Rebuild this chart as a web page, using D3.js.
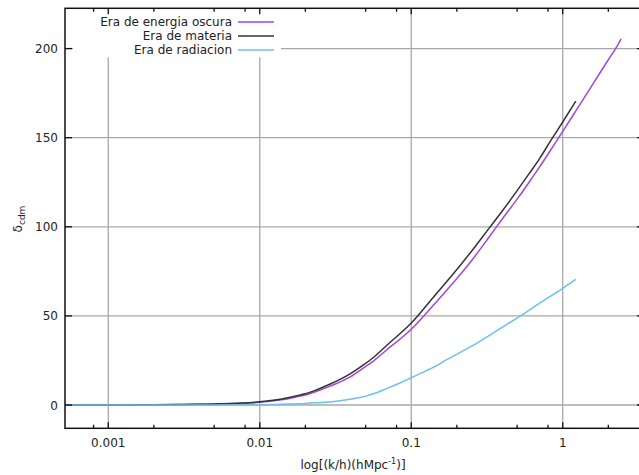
<!DOCTYPE html>
<html>
<head>
<meta charset="utf-8">
<script src="https://cdn.jsdelivr.net/npm/d3@7"></script>
<style>
  body { margin: 0; background: #fff; }
  svg { display: block; overflow: hidden; }
  text { font-family: "DejaVu Sans", sans-serif; fill: #222; }
</style>
</head>
<body>
<svg width="639" height="475"></svg>
<script>
var kOscura = [0.000518, 0.001, 0.002, 0.003, 0.004, 0.005, 0.007, 0.01, 0.0143, 0.0176, 0.02, 0.0238, 0.0292, 0.0395, 0.0484, 0.0565, 0.069, 0.1, 0.14, 0.2, 0.25, 0.325, 0.4, 0.5, 0.6, 0.7, 0.843, 1.0, 1.22, 1.5, 1.78, 2.0, 2.26, 2.43];
var deltaOscura = [0, 0.04, 0.12, 0.25, 0.38, 0.5, 0.85, 1.5, 3.1, 4.6, 5.6, 7.7, 10.6, 15.8, 20.8, 24.8, 31, 42.5, 56, 71, 81, 94, 104.5, 115.5, 125, 133.3, 143.8, 153.5, 165, 177, 187, 193.7, 200.7, 205.5];

var kMateria = [0.000518, 0.001, 0.002, 0.003, 0.004, 0.005, 0.007, 0.01, 0.0143, 0.0176, 0.02, 0.0238, 0.0292, 0.0395, 0.0484, 0.0565, 0.069, 0.1, 0.14, 0.2, 0.25, 0.325, 0.4, 0.5, 0.6, 0.7, 0.843, 1.0, 1.22];
var deltaMateria = [0, 0.05, 0.15, 0.3, 0.45, 0.6, 1.0, 1.8, 3.5, 5.2, 6.3, 8.6, 11.8, 17.5, 22.5, 26.8, 33.5, 46, 60.5, 76, 86.3, 99, 109, 120.3, 129.8, 138, 149, 158.8, 170.5];

var kRadiacion = [0.000518, 0.005, 0.01, 0.0143, 0.02, 0.0238, 0.03, 0.0395, 0.05, 0.0565, 0.07, 0.0848, 0.1, 0.124, 0.15, 0.17, 0.181, 0.25, 0.388, 0.526, 0.7, 1.0, 1.22];
var deltaRadiacion = [0, 0.05, 0.2, 0.5, 0.9, 1.3, 1.9, 3.2, 5.0, 6.3, 9.5, 12.5, 15.3, 19, 22.5, 25.3, 26.5, 33, 43, 50, 57, 65.5, 70.5];

var seriesNames = ["Era de energia oscura", "Era de materia", "Era de radiacion"];
var seriesColors = ["#a046e2", "#333333", "#6cc0ee"];

var xDomain = [0.000518, 3.44];
var yDomain = [-13.06, 222.6];
var xMajorTicks = [0.001, 0.01, 0.1, 1];
var xTickLabels = ["0.001", "0.01", "0.1", "1"];
var xMinorTicks = [0.0008, 0.002, 0.005, 0.008, 0.02, 0.05, 0.08, 0.2, 0.5, 0.8, 2];
var yTicks = [0, 50, 100, 150, 200];

var svg = d3.select("svg");
// plot box in pixels (right edge is past the picture, as in the original)
var pLeft = 65, pRight = 644, pTop = 8.3, pBottom = 428.3;

var x = d3.scaleLog().domain(xDomain).range([pLeft, pRight]);
var y = d3.scaleLinear().domain(yDomain).range([pBottom, pTop]);

// grid
var grid = svg.append("g").attr("stroke", "#a8a8a8").attr("stroke-width", 1.3);
grid.selectAll(".gx").data(xMajorTicks).enter().append("line")
    .attr("x1", function(d) { return x(d); })
    .attr("x2", function(d) { return x(d); })
    .attr("y1", pTop).attr("y2", pBottom);
grid.selectAll(".gy").data(yTicks).enter().append("line")
    .attr("x1", pLeft).attr("x2", pRight)
    .attr("y1", function(d) { return y(d); })
    .attr("y2", function(d) { return y(d); });

// curves
var allSeries = [
    { k: kOscura, v: deltaOscura },
    { k: kMateria, v: deltaMateria },
    { k: kRadiacion, v: deltaRadiacion }
];
var line = d3.line()
    .x(function(d) { return x(d[0]); })
    .y(function(d) { return y(d[1]); })
    .curve(d3.curveMonotoneX);

allSeries.forEach(function(s, i) {
    var pts = s.k.map(function(k, j) { return [k, s.v[j]]; });
    svg.append("path")
        .attr("d", line(pts))
        .attr("fill", "none")
        .attr("stroke", seriesColors[i])
        .attr("stroke-width", 1.5);
});

// legend (opaque box hides the grid)
svg.append("rect")
    .attr("x", 73).attr("y", pTop + 1)
    .attr("width", 208).attr("height", 48)
    .attr("fill", "#fff");
var legend = svg.append("g");
seriesNames.forEach(function(name, i) {
    var ly = 22 + i * 14;
    legend.append("text")
        .attr("x", 232).attr("y", ly + 4)
        .attr("text-anchor", "end")
        .attr("font-size", 12)
        .text(name);
    legend.append("line")
        .attr("x1", 238).attr("x2", 274)
        .attr("y1", ly).attr("y2", ly)
        .attr("stroke", seriesColors[i])
        .attr("stroke-width", 1.5);
});

// border
svg.append("rect")
    .attr("x", pLeft).attr("y", pTop)
    .attr("width", pRight - pLeft).attr("height", pBottom - pTop)
    .attr("fill", "none").attr("stroke", "#111").attr("stroke-width", 1.5);

// ticks, bottom and mirrored on top
var ticks = svg.append("g").attr("stroke", "#111").attr("stroke-width", 1.3);
xMajorTicks.forEach(function(d) {
    ticks.append("line").attr("x1", x(d)).attr("x2", x(d)).attr("y1", pBottom).attr("y2", pBottom - 6);
    ticks.append("line").attr("x1", x(d)).attr("x2", x(d)).attr("y1", pTop).attr("y2", pTop + 6);
});
xMinorTicks.forEach(function(d) {
    ticks.append("line").attr("x1", x(d)).attr("x2", x(d)).attr("y1", pBottom).attr("y2", pBottom - 3.5);
    ticks.append("line").attr("x1", x(d)).attr("x2", x(d)).attr("y1", pTop).attr("y2", pTop + 3.5);
});
yTicks.forEach(function(d) {
    ticks.append("line").attr("x1", pLeft).attr("x2", pLeft + 7).attr("y1", y(d)).attr("y2", y(d));
    ticks.append("line").attr("x1", pRight).attr("x2", pRight - 7).attr("y1", y(d)).attr("y2", y(d));
});

// tick labels
svg.selectAll(".xl").data(xMajorTicks).enter().append("text")
    .attr("x", function(d) { return x(d); })
    .attr("y", 447)
    .attr("text-anchor", "middle")
    .attr("font-size", 12)
    .text(function(d, i) { return xTickLabels[i]; });
svg.selectAll(".yl").data(yTicks).enter().append("text")
    .attr("x", 58)
    .attr("y", function(d) { return y(d) + 4.5; })
    .attr("text-anchor", "end")
    .attr("font-size", 12)
    .text(function(d) { return d; });

// axis titles
var xt = svg.append("text")
    .attr("x", 353).attr("y", 469)
    .attr("text-anchor", "middle")
    .attr("font-size", 12);
xt.append("tspan").text("log[(k/h)(hMpc");
xt.append("tspan").attr("font-size", 8).attr("dy", -5).text("-1");
xt.append("tspan").attr("dy", 5).text(")]");

var yt = svg.append("text")
    .attr("transform", "translate(22,219) rotate(-90)")
    .attr("text-anchor", "middle")
    .attr("font-size", 12);
yt.append("tspan").text("δ");
yt.append("tspan").attr("font-size", 9).attr("dy", 3).text("cdm");
</script>
</body>
</html>
